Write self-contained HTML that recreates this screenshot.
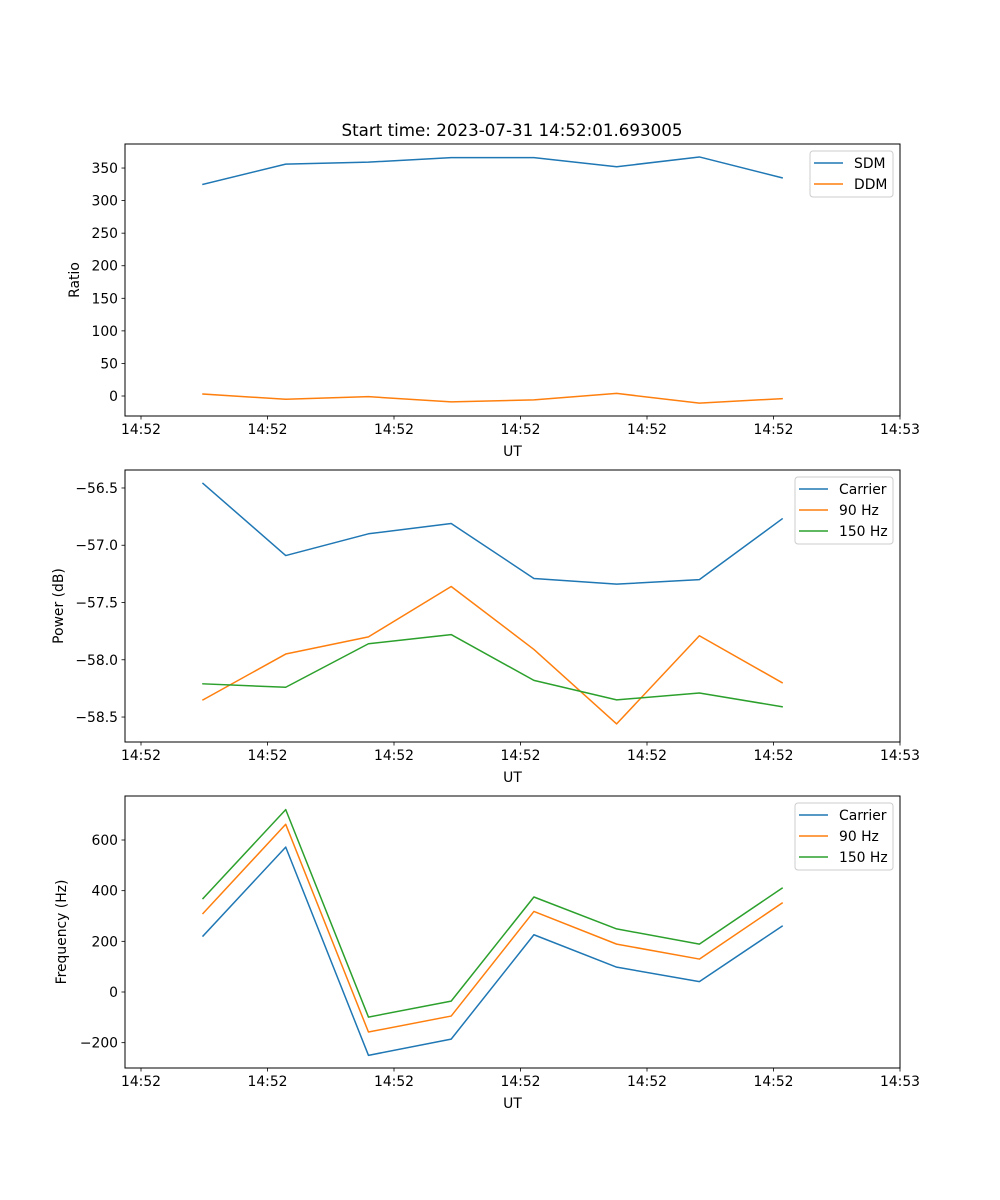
<!DOCTYPE html>
<html><head><meta charset="utf-8"><style>
html,body{margin:0;padding:0;background:#fff;}
svg{display:block;font-family:"DejaVu Sans","Liberation Sans",sans-serif;}
</style></head><body>
<svg id="fig" width="1000" height="1200" viewBox="0 0 1000 1200" xmlns="http://www.w3.org/2000/svg">
<rect width="1000" height="1200" fill="#fff"/>
<text x="512" y="136" font-size="16.7" text-anchor="middle">Start time: 2023-07-31 14:52:01.693005</text>
</svg>
<script>
// sample times in seconds relative to 14:52:00 tick
const times = [4.9, 11.44, 17.98, 24.52, 31.06, 37.6, 44.14, 50.68];
const xTickVals = [0, 10, 20, 30, 40, 50, 60];
const xTickLabels = ["14:52","14:52","14:52","14:52","14:52","14:52","14:53"];

const sdm = [325, 356, 359, 366, 366, 352, 367, 335];
const ddm = [3, -5, -1, -9, -6, 4, -11, -4];
const ratioTicks = [0, 50, 100, 150, 200, 250, 300, 350];

const powerCarrier = [-56.46, -57.09, -56.90, -56.81, -57.29, -57.34, -57.30, -56.77];
const power90 = [-58.35, -57.95, -57.80, -57.36, -57.91, -58.56, -57.79, -58.20];
const power150 = [-58.21, -58.24, -57.86, -57.78, -58.18, -58.35, -58.29, -58.41];
const powerTicks = [-56.5, -57.0, -57.5, -58.0, -58.5];

const freqCarrier = [221, 572, -250, -186, 226, 98, 41, 260];
const freq90 = [310, 662, -158, -95, 318, 189, 130, 351];
const freq150 = [369, 720, -99, -36, 375, 249, 189, 410];
const freqTicks = [-200, 0, 200, 400, 600];

const NS = "http://www.w3.org/2000/svg";
const svg = document.getElementById("fig");
const C = ["#1f77b4", "#ff7f0e", "#2ca02c"];
const L = 125, R = 900;
const FS = 13.9;
const xMin = -1.265, xMax = 60;
function xs(t){ return L + (t - xMin) / (xMax - xMin) * (R - L); }

function mk(tag, attrs, parent){
  const e = document.createElementNS(NS, tag);
  for (const k in attrs) e.setAttribute(k, attrs[k]);
  (parent || svg).appendChild(e);
  return e;
}

function panel(name, top, bottom, yMin, yMax, yTicks, fmt, ylabel, ylabelX, series, names, legend){
  const g = mk("g", {});
  
  
  const ys = v => bottom - (v - yMin) / (yMax - yMin) * (bottom - top);
  series.forEach((arr, i) => {
    const pts = arr.map((v, j) => xs(times[j]).toFixed(2) + "," + ys(v).toFixed(2)).join(" ");
    const p = mk("polyline", {points: pts, fill: "none", stroke: C[i], "stroke-width": 1.5, "stroke-linejoin": "round", "stroke-linecap": "square"}, g);
    
    
  });
  const fr = mk("rect", {x: L, y: top, width: R - L, height: bottom - top, fill: "none", stroke: "#000", "stroke-width": 1}, g);
  
  
  xTickVals.forEach((t, i) => {
    const x = xs(t);
    mk("line", {x1: x, x2: x, y1: bottom, y2: bottom + 3.5, stroke: "#000", "stroke-width": 0.8}, g);
    const tx = mk("text", {x: x, y: bottom + 18, "font-size": FS, "text-anchor": "middle"}, g);
    tx.textContent = xTickLabels[i];
    
    
  });
  const xl = mk("text", {x: (L + R) / 2, y: bottom + 40, "font-size": FS, "text-anchor": "middle"}, g);
  xl.textContent = "UT";
  
  
  yTicks.forEach(v => {
    const y = ys(v);
    mk("line", {x1: L - 3.5, x2: L, y1: y, y2: y, stroke: "#000", "stroke-width": 0.8}, g);
    const ty = mk("text", {x: L - 7, y: y + 5, "font-size": FS, "text-anchor": "end"}, g);
    ty.textContent = fmt(v);
    
    
  });
  const cy = (top + bottom) / 2;
  const yl = mk("text", {x: ylabelX, y: cy, "font-size": FS, "text-anchor": "middle", transform: "rotate(-90 " + ylabelX + " " + cy + ")"}, g);
  yl.textContent = ylabel;
  
  
  const lg = mk("g", {}, g);
  
  
  mk("rect", {x: legend.x, y: top + 7, width: R - 7 - legend.x, height: names.length * 21 + 4, rx: 3, fill: "#fff", "fill-opacity": 0.8, stroke: "#ccc", "stroke-width": 1}, lg);
  names.forEach((n, i) => {
    const y = top + 19 + i * 21;
    mk("line", {x1: legend.x + 4, x2: legend.x + 33, y1: y, y2: y, stroke: C[i], "stroke-width": 1.5}, lg);
    const t = mk("text", {x: legend.x + 44, y: y + 5, "font-size": FS}, lg);
    t.textContent = n;
    
    
  });
}

panel("ratio", 144, 416, -30.7, 386.9, ratioTicks, v => String(v), "Ratio", 79,
  [sdm, ddm], ["SDM", "DDM"], {x: 810});
panel("power", 470, 742, -58.718, -56.343, powerTicks, v => "\u2212" + Math.abs(v).toFixed(1), "Power (dB)", 63,
  [powerCarrier, power90, power150], ["Carrier", "90 Hz", "150 Hz"], {x: 795});
panel("frequency", 796, 1068, -300, 773.7, freqTicks, v => (v < 0 ? "\u2212" : "") + Math.abs(v), "Frequency (Hz)", 66,
  [freqCarrier, freq90, freq150], ["Carrier", "90 Hz", "150 Hz"], {x: 795});
</script>
</body></html>
